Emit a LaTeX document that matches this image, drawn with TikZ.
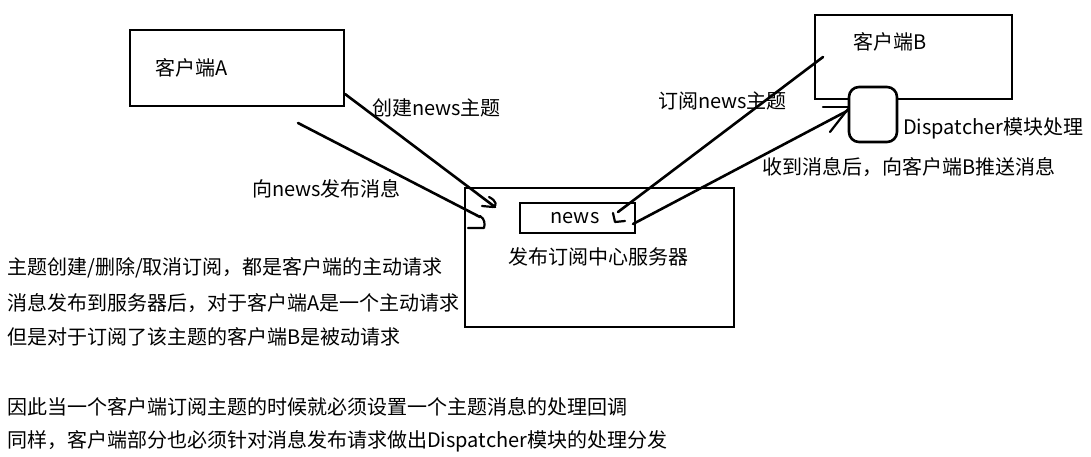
\documentclass[tikz,border=0pt]{standalone}
\usepackage{fontspec}
\newfontfamily\cjk{Noto Sans CJK SC}
\begin{document}
\begin{tikzpicture}[x=1pt,y=-1pt,
  box/.style={draw=black,line width=2.6pt,inner sep=0pt,minimum width=#1},
  lbl/.style={font=\cjk\fontsize{20}{22}\selectfont,anchor=west,inner sep=0pt},
  conn/.style={draw=black,line width=2.6pt,line cap=round,line join=round}]
\useasboundingbox[fill=white] (0,0) rectangle (1091,457);
% boxes
\node[box=214pt,minimum height=76pt] (A) at (237,68) {};
\node[box=197pt,minimum height=84pt] (B) at (913.5,57) {};
\node[box=48pt,minimum height=55pt,rounded corners=10pt,fill=white] (D) at (873,114.5) {};
\node[box=269pt,minimum height=139pt] (S) at (599.5,257.5) {};
\node[box=115pt,minimum height=30pt] (N) at (577.5,218) {};
% labels
\node[lbl] (tA) at (155,68) {客户端A};
\node[lbl] (tB) at (853,42) {客户端B};
\node[lbl] (t1) at (372,108) {创建news主题};
\node[lbl] (t2) at (658,101) {订阅news主题};
\node[lbl] (t3) at (903,128) {Dispatcher模块处理};
\node[lbl] (t4) at (762,167) {收到消息后，向客户端B推送消息};
\node[lbl] (t5) at (252,189) {向news发布消息};
\node[lbl,anchor=center] (tn) at (575,218) {news};
\node[lbl] (ts) at (508,257) {发布订阅中心服务器};
\node[lbl] (l1) at (7,268) {主题创建/删除/取消订阅，都是客户端的主动请求};
\node[lbl] (l2) at (7,303) {消息发布到服务器后，对于客户端A是一个主动请求};
\node[lbl] (l3) at (7,337) {但是对于订阅了该主题的客户端B是被动请求};
\node[lbl] (l4) at (7,407) {因此当一个客户端订阅主题的时候就必须设置一个主题消息的处理回调};
\node[lbl] (l5) at (7,441) {同样，客户端部分也必须针对消息发布请求做出Dispatcher模块的处理分发};
% connector end points
\coordinate (a1s) at (345,94);
\coordinate (a1e) at (495,207);
\coordinate (a2s) at (298,123);
\coordinate (a2e) at (480,217);
\coordinate (a3s) at (823,57);
\coordinate (a3e) at (618,212);
\coordinate (a4s) at (633,224);
\coordinate (a4e) at (847,111);
% connectors with hand-drawn heads
\draw[conn] (a1s) -- (a1e);
\draw[conn,line width=2.2pt] (489,197) .. controls (497,201) and (497,206) .. (493,207) -- (482,206);
\draw[conn] (a2s) -- (a2e);
\draw[conn,line width=2.2pt] (480,216) .. controls (485,219) and (485,224) .. (484,228) -- (468,228);
\draw[conn] (a3s) -- (a3e);
\draw[conn,line width=2.2pt] (613,213) -- (615,222) -- (625,221);
\draw[conn] (a4s) -- (a4e);
\draw[conn,line width=2.2pt] (823,107) -- (848,107);
\draw[conn,line width=2.2pt] (830,132) -- (848,109);
\end{tikzpicture}
\end{document}
